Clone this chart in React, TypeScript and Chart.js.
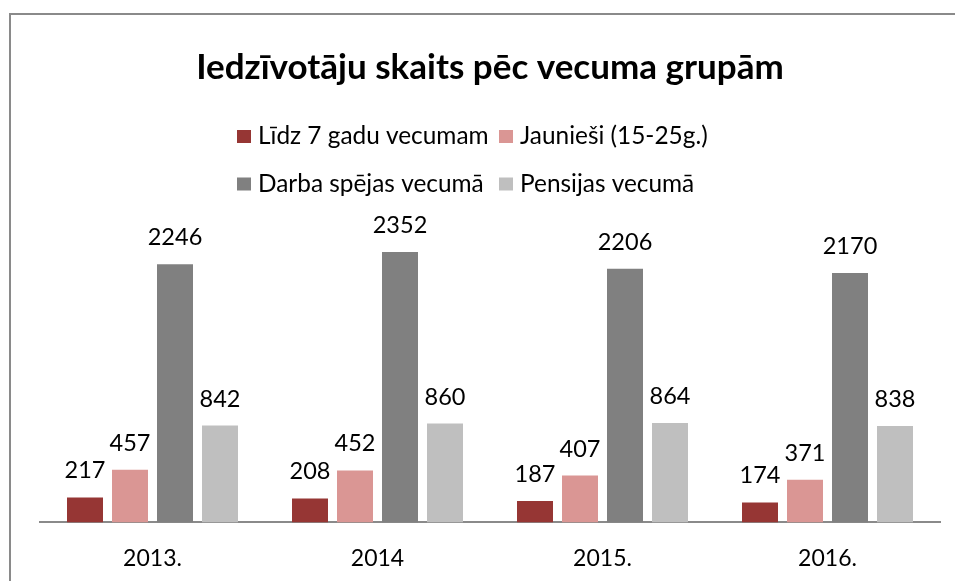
import React, { useEffect, useRef } from 'react';
import { Chart, registerables } from 'chart.js';

Chart.register(...registerables);

const FONT = 'Lato, "Open Sans", sans-serif';

const titleText = 'Iedzīvotāju skaits pēc vecuma grupām';
const categories = ['2013.', '2014', '2015.', '2016.'];
const seriesNames = ['Līdz 7 gadu vecumam', 'Jaunieši (15-25g.)', 'Darba spējas vecumā', 'Pensijas vecumā'];
const lidz7 = [217, 208, 187, 174];
const jauniesi = [457, 452, 407, 371];
const darbaSpejas = [2246, 2352, 2206, 2170];
const pensijas = [842, 860, 864, 838];
const seriesColors = ['#963634', '#DA9694', '#808080', '#BFBFBF'];

const overlayPlugin = {
  id: 'overlay',
  afterDraw(chart: any) {
    const ctx = chart.ctx;
    const area = chart.chartArea;
    ctx.save();
    ctx.fillStyle = '#000';
    // title
    ctx.font = `bold 35px ${FONT}`;
    ctx.textAlign = 'center';
    ctx.textBaseline = 'middle';
    ctx.fillText(titleText, (area.left + area.right) / 2, 68);
    // legend (2 x 2 grid)
    const colX = [237, 499];
    const rowY = [136.5, 184];
    ctx.font = `24.4px ${FONT}`;
    ctx.textAlign = 'left';
    chart.data.datasets.forEach((ds: any, i: number) => {
      const x = colX[i % 2];
      const y = rowY[Math.floor(i / 2)];
      ctx.fillStyle = ds.backgroundColor;
      ctx.fillRect(x, y - 6.5, 14, 13);
      ctx.fillStyle = '#000';
      ctx.fillText(ds.label, x + 21, y);
    });
    // data labels
    ctx.font = `23.5px ${FONT}`;
    ctx.textAlign = 'center';
    ctx.textBaseline = 'alphabetic';
    chart.data.datasets.forEach((ds: any, i: number) => {
      const meta = chart.getDatasetMeta(i);
      meta.data.forEach((el: any, j: number) => {
        ctx.fillText(String(ds.data[j]), el.x, el.y - 19);
      });
    });
    ctx.restore();
  },
};

export default function App() {
  const ref = useRef<HTMLCanvasElement>(null);
  useEffect(() => {
    if (!ref.current) return;
    const chart = new Chart(ref.current, {
      type: 'bar',
      data: {
        labels: categories,
        datasets: [lidz7, jauniesi, darbaSpejas, pensijas].map((d, i) => ({
          label: seriesNames[i],
          data: d,
          backgroundColor: seriesColors[i],
          borderWidth: 0,
          categoryPercentage: 0.8,
          barPercentage: 0.8,
        })),
      },
      options: {
        animation: false,
        responsive: false,
        maintainAspectRatio: false,
        layout: { padding: { left: 40, right: 15, top: 235, bottom: -13 } },
        plugins: {
          legend: { display: false },
          title: { display: false },
          tooltip: { enabled: false },
        },
        scales: {
          x: {
            grid: { display: false, drawTicks: false },
            border: { display: true, color: '#8a8a8a', width: 2 },
            ticks: { color: '#000', font: { family: FONT, size: 23 }, padding: 22 },
          },
          y: {
            display: false,
            min: 0,
            max: 2500,
          },
        },
      },
      plugins: [overlayPlugin],
    });
    return () => chart.destroy();
  }, []);
  return (
    <div style={{ position: 'absolute', left: 0, top: 0, width: 955, height: 581, overflow: 'hidden', background: '#fff' }}>
      <div
        style={{
          position: 'absolute',
          left: 9,
          top: 13,
          width: 1000,
          height: 700,
          borderLeft: '2px solid #8a8a8a',
          borderTop: '2px solid #8a8a8a',
        }}
      />
      <canvas ref={ref} width={955} height={581} style={{ position: 'absolute', left: 0, top: 0 }} />
    </div>
  );
}
